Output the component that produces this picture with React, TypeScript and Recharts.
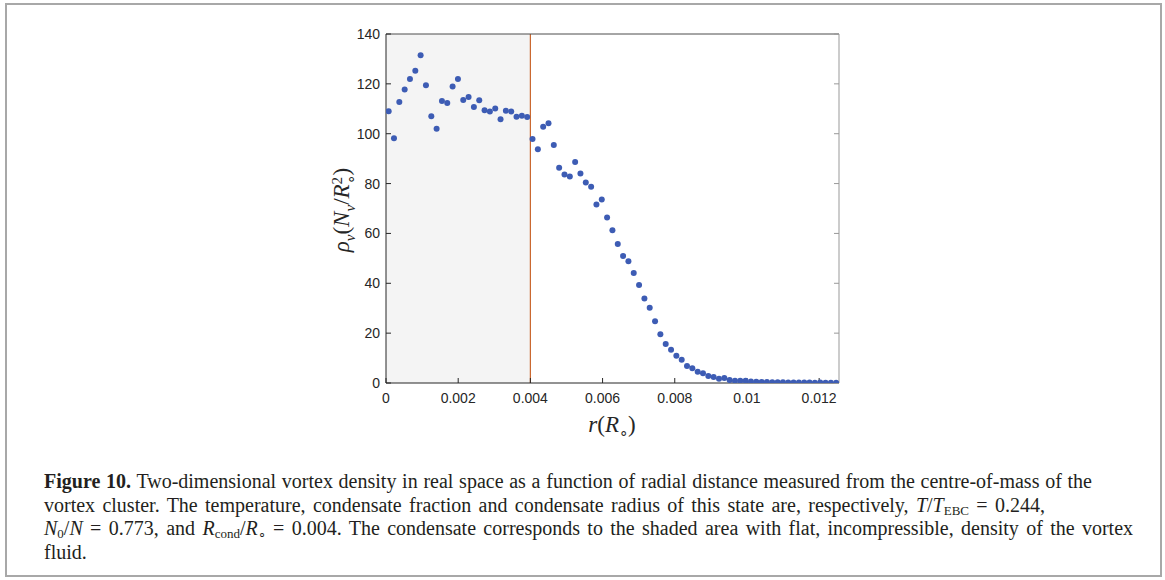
import React from 'react';
import {
  ScatterChart,
  Scatter,
  XAxis,
  YAxis,
  ReferenceArea,
  ReferenceLine,
} from 'recharts';

// radial bin centres r (units of R_o)
const radius = [
  0.000074, 0.000221, 0.000369, 0.000517, 0.000664, 0.000812, 0.000959, 0.001107, 0.001255, 0.001402,
  0.00155, 0.001697, 0.001845, 0.001993, 0.00214, 0.002288, 0.002435, 0.002583, 0.002731, 0.002878,
  0.003026, 0.003173, 0.003321, 0.003469, 0.003616, 0.003764, 0.003911, 0.004059, 0.004207, 0.004354,
  0.004502, 0.004649, 0.004797, 0.004945, 0.005092, 0.00524, 0.005387, 0.005535, 0.005683, 0.00583,
  0.005978, 0.006125, 0.006273, 0.006421, 0.006568, 0.006716, 0.006863, 0.007011, 0.007159, 0.007306,
  0.007454, 0.007601, 0.007749, 0.007897, 0.008044, 0.008192, 0.008339, 0.008487, 0.008635, 0.008782,
  0.00893, 0.009077, 0.009225, 0.009373, 0.00952, 0.009668, 0.009815, 0.009963, 0.010111, 0.010258,
  0.010406, 0.010553, 0.010701, 0.010849, 0.010996, 0.011144, 0.011291, 0.011439, 0.011587, 0.011734,
  0.011882, 0.012029, 0.012177, 0.012325, 0.012472,
];

// vortex density rho_v (N_v / R_o^2)
const density = [
  109.0, 98.2, 112.7, 117.7, 121.9, 125.3, 131.5, 119.4, 107.0, 102.0,
  113.1, 112.3, 118.9, 121.9, 113.5, 114.7, 110.7, 113.4, 109.4, 108.9,
  110.1, 105.8, 109.2, 108.9, 106.8, 107.2, 106.7, 97.9, 93.8, 102.8,
  104.2, 95.5, 86.3, 83.6, 82.8, 88.7, 84.0, 80.4, 78.7, 71.6,
  73.6, 66.4, 61.3, 55.8, 50.9, 48.8, 44.1, 39.3, 33.9, 30.2,
  24.8, 19.6, 15.6, 13.3, 10.9, 9.3, 6.8, 5.9, 4.5, 3.9,
  2.8, 2.4, 1.7, 2.0, 1.2, 0.9, 0.9, 0.9, 0.6, 0.5,
  0.4, 0.4, 0.3, 0.3, 0.3, 0.2, 0.2, 0.2, 0.2, 0.2,
  0.1, 0.2, 0.1, 0.1, 0.1,
];

const xTicks = [0, 0.002, 0.004, 0.006, 0.008, 0.01, 0.012];
const yTicks = [0, 20, 40, 60, 80, 100, 120, 140];
const xMax = 0.01255;
const rCond = 0.004;

const data = radius.map((r, i) => ({ r, rho: density[i] }));

const axisFont = { fontFamily: 'Liberation Sans, Arial, sans-serif', fontSize: 14, fill: '#262626' };
const mathFont = "'Liberation Serif', 'Times New Roman', serif";

const Dot = (props: any) => <circle cx={props.cx} cy={props.cy} r={3} fill="#3d5cb4" />;
const NoLabel = () => <g />;

const sub = { fontSize: 13, lineHeight: 0, verticalAlign: '-3px' };
const line = (w: number) => ({ width: w, textAlign: 'justify' as const, textAlignLast: 'justify' as const });

export default function App() {
  return (
    <div style={{ position: 'absolute', left: 0, top: 0, width: 1165, height: 580, background: '#fff', overflow: 'hidden' }}>
      <div
        style={{
          position: 'absolute', left: 5, top: 3, width: 1157, height: 574,
          border: '2px solid #a8a8a8', boxSizing: 'border-box',
        }}
      />
      <div style={{ position: 'absolute', left: 0, top: 0 }}>
        <ScatterChart width={1165} height={450} margin={{ top: 33, right: 325, bottom: 37, left: 336 }}>
          <ReferenceArea x1={0} x2={rCond} y1={0} y2={140} fill="#f4f4f4" fillOpacity={1} stroke="none" />
          <XAxis
            type="number" dataKey="r" domain={[0, xMax]} ticks={xTicks} allowDataOverflow
            height={30} tickSize={-5} tickMargin={15} tick={axisFont}
            axisLine={{ stroke: '#262626' }} tickLine={{ stroke: '#262626' }}
          />
          <XAxis
            xAxisId="top" orientation="top" type="number" domain={[0, xMax]} ticks={xTicks} allowDataOverflow
            height={1} tickSize={-5} tick={NoLabel}
            axisLine={{ stroke: '#4d4d4d' }} tickLine={{ stroke: '#4d4d4d' }}
          />
          <YAxis
            type="number" dataKey="rho" domain={[0, 140]} ticks={yTicks} allowDataOverflow
            width={50} tickSize={-5} tickMargin={11} tick={axisFont}
            axisLine={{ stroke: '#262626' }} tickLine={{ stroke: '#262626' }}
          />
          <YAxis
            yAxisId="right" orientation="right" type="number" domain={[0, 140]} ticks={yTicks} allowDataOverflow
            width={1} tickSize={-5} tick={NoLabel}
            axisLine={{ stroke: '#999' }} tickLine={{ stroke: '#999' }}
          />
          <ReferenceLine x={rCond} stroke="#c9652c" strokeWidth={1.2} />
          <Scatter data={data} shape={Dot} isAnimationActive={false} />
        </ScatterChart>
      </div>

      {/* y axis label */}
      <div
        style={{
          position: 'absolute', left: 344, top: 210, transform: 'translate(-50%, -50%) rotate(-90deg)',
          fontFamily: mathFont, fontStyle: 'italic', fontSize: 23, whiteSpace: 'nowrap', color: '#262626',
        }}
      >
        ρ<sub style={{ fontSize: 15 }}>v</sub>
        <span style={{ fontStyle: 'normal' }}>(</span>N<sub style={{ fontSize: 15 }}>v</sub>
        <span style={{ fontStyle: 'normal' }}>/</span>R
        <span style={{ display: 'inline-flex', flexDirection: 'column', verticalAlign: 'middle', fontSize: 15, lineHeight: '14px', fontStyle: 'normal' }}>
          <span>2</span>
          <span>∘</span>
        </span>
        <span style={{ fontStyle: 'normal' }}>)</span>
      </div>

      {/* x axis label */}
      <div
        style={{
          position: 'absolute', left: 612, top: 427, transform: 'translate(-50%, -50%)',
          fontFamily: mathFont, fontStyle: 'italic', fontSize: 23, whiteSpace: 'nowrap', color: '#262626',
        }}
      >
        r<span style={{ fontStyle: 'normal' }}>(</span>R<sub style={{ fontSize: 15, fontStyle: 'normal' }}>∘</sub>
        <span style={{ fontStyle: 'normal' }}>)</span>
      </div>

      {/* caption */}
      <div
        style={{
          position: 'absolute', left: 44, top: 470, fontFamily: mathFont, fontSize: 20,
          lineHeight: '23.5px', color: '#231f20',
        }}
      >
        <div style={line(1048)}>
          <b>Figure 10.</b> Two-dimensional vortex density in real space as a function of radial distance measured from the centre-of-mass of the
        </div>
        <div style={line(1001)}>
          vortex cluster. The temperature, condensate fraction and condensate radius of this state are, respectively,{' '}
          <span style={{ whiteSpace: 'nowrap' }}>
            <i>T</i>/<i>T</i><sub style={sub}>EBC</sub>&nbsp;=&nbsp;0.244,
          </span>
        </div>
        <div style={line(1089)}>
          <span style={{ whiteSpace: 'nowrap' }}>
            <i>N</i><sub style={sub}>0</sub>/<i>N</i>&nbsp;=&nbsp;0.773,
          </span>{' '}
          and{' '}
          <span style={{ whiteSpace: 'nowrap' }}>
            <i>R</i><sub style={sub}>cond</sub>/<i>R</i><sub style={sub}>∘</sub>&nbsp;=&nbsp;0.004.
          </span>{' '}
          The condensate corresponds to the shaded area with flat, incompressible, density of the vortex
        </div>
        <div>fluid.</div>
      </div>
    </div>
  );
}
